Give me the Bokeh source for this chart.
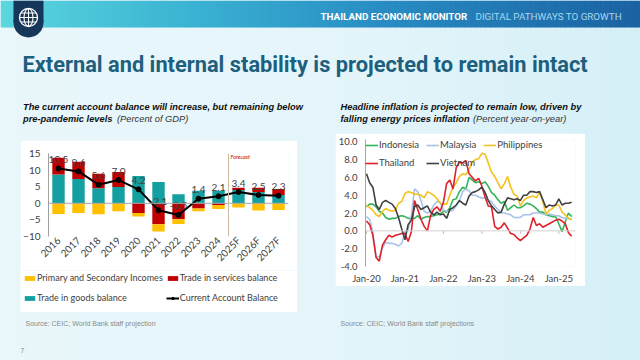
from math import pi
import numpy as np
from bokeh.plotting import figure
from bokeh.layouts import column, row
from bokeh.models import (Range1d, FactorRange, Span, Label, Legend, LegendItem,
                          FixedTicker, NumeralTickFormatter, Spacer)
from bokeh.core.properties import value
from bokeh.embed import file_html
from bokeh.resources import INLINE

# ---------------- texts ----------------
slide_header = "THAILAND ECONOMIC MONITOR"
slide_subheader = "DIGITAL PATHWAYS TO GROWTH"
slide_title = "External and internal stability is projected to remain intact"
left_sub_1 = "The current account balance will increase, but remaining below"
left_sub_2 = "pre-pandemic levels"
left_sub_unit = "(Percent of GDP)"
right_sub_1 = "Headline inflation is projected to remain low, driven by"
right_sub_2 = "falling energy prices inflation"
right_sub_unit = "(Percent year-on-year)"
left_source = "Source: CEIC; World Bank staff projection"
right_source = "Source:  CEIC; World Bank staff projections"
page_number = "7"

# ---------------- left chart data (percent of GDP) ----------------
ca_years = ["2016", "2017", "2018", "2019", "2020", "2021", "2022", "2023",
            "2024", "2025F", "2026F", "2027F"]
goods = [8.7, 7.3, 4.5, 4.9, 8.2, 6.4, 2.7, 3.8, 3.8, 4.0, 3.4, 2.5]
services = [5.0, 5.2, 4.4, 4.5, -2.9, -6.3, -4.8, -1.6, -0.5, 0.7, 1.3, 1.8]
incomes = [-3.2, -2.9, -3.3, -2.4, -1.1, -2.2, -1.4, -0.8, -1.2, -1.3, -2.2, -2.0]
ca_balance = [10.5, 9.6, 5.6, 7.0, 4.2, -2.1, -3.5, 1.4, 2.1, 3.4, 2.5, 2.3]
ca_y_ticks = [-10, -5, 0, 5, 10, 15]
forecast_from = "2025F"

# ---------------- right chart data (monthly, Jan-2020 .. May-2025) ----------------
cpi_x_labels = ["Jan-20", "Jan-21", "Jan-22", "Jan-23", "Jan-24", "Jan-25"]
cpi_y_ticks = [-4, -2, 0, 2, 4, 6, 8, 10]
indonesia = [2.7, 3.0, 3.0, 2.7, 2.2, 2.0, 1.5, 1.3, 1.4, 1.4, 1.6, 1.7,
             1.6, 1.4, 1.4, 1.4, 1.7, 1.3, 1.5, 1.6, 1.6, 1.7, 1.8, 1.9,
             2.2, 2.1, 2.6, 3.5, 3.6, 4.4, 4.9, 4.7, 6.0, 5.7, 5.4, 5.5,
             5.3, 5.5, 5.0, 4.3, 4.0, 3.5, 3.1, 3.3, 2.3, 2.6, 2.9, 2.6,
             2.6, 2.8, 3.1, 3.0, 2.8, 2.5, 2.1, 2.1, 1.8, 1.7, 1.6, 1.6,
             0.8, -0.1, 1.0, 2.0, 1.6]
malaysia = [1.6, 1.3, -0.2, -2.9, -2.9, -1.9, -1.3, -1.4, -1.4, -1.5, -1.7, -1.4,
            -0.2, 0.1, 1.7, 4.7, 4.4, 3.4, 2.2, 2.0, 2.2, 2.9, 3.3, 3.2,
            2.3, 2.2, 2.2, 2.3, 2.8, 3.4, 4.4, 4.7, 4.5, 4.0, 4.0, 3.8,
            3.7, 3.7, 3.4, 3.3, 2.8, 2.4, 2.0, 2.0, 1.9, 1.8, 1.5, 1.5,
            1.5, 1.8, 1.8, 1.8, 2.0, 2.0, 2.0, 1.9, 1.8, 1.9, 1.8, 1.7,
            1.7, 1.5, 1.4, 1.4, 1.2]
philippines = [2.9, 2.6, 2.3, 1.8, 1.6, 2.2, 2.5, 2.3, 2.2, 2.3, 3.1, 3.3,
               4.2, 4.4, 4.3, 4.1, 4.1, 4.0, 3.7, 4.4, 4.2, 4.0, 3.6, 3.1,
               3.0, 3.0, 4.0, 4.9, 5.4, 6.1, 6.4, 6.3, 6.9, 7.7, 8.0, 8.1,
               8.7, 8.6, 7.6, 6.6, 6.1, 5.4, 4.7, 5.3, 6.1, 4.9, 4.1, 3.9,
               2.8, 3.4, 3.7, 3.8, 3.9, 3.7, 4.4, 3.3, 1.9, 2.3, 2.5, 2.9,
               2.9, 2.1, 1.8, 1.4, 1.3]
thailand = [1.1, 0.7, -0.5, -3.0, -3.4, -1.6, -1.0, -0.5, -0.7, -0.5, -0.4, -0.3,
            -0.3, -1.2, -0.1, 3.4, 2.4, 1.3, 0.5, 0.0, 1.7, 2.4, 2.7, 2.2,
            3.2, 5.3, 5.7, 4.7, 7.1, 7.7, 7.6, 7.9, 6.4, 6.0, 5.6, 5.9,
            5.0, 3.8, 2.8, 2.7, 0.5, 0.2, 0.4, 0.9, 0.3, -0.3, -0.4, -0.8,
            -1.1, -0.8, -0.5, 0.2, 1.5, 0.6, 0.8, 0.4, 0.6, 0.8, 1.0, 1.2,
            1.3, 1.1, 0.8, -0.2, -0.6]
vietnam = [6.4, 5.4, 4.9, 2.9, 2.4, 3.2, 3.4, 3.2, 3.0, 2.5, 1.5, 0.2,
           -1.0, 0.7, 1.2, 2.7, 2.9, 2.4, 2.6, 2.8, 2.1, 1.8, 2.1, 1.8,
           1.9, 1.4, 2.4, 2.6, 2.9, 3.4, 3.1, 2.9, 3.9, 4.3, 4.4, 4.6,
           4.9, 4.3, 3.4, 2.8, 2.4, 2.0, 2.1, 3.0, 3.7, 3.6, 3.5, 3.6,
           3.4, 4.0, 4.0, 4.4, 4.4, 4.3, 4.4, 3.5, 2.6, 2.9, 2.8, 2.9,
           3.6, 2.9, 3.1, 3.1, 3.2]

# ---------------- styles ----------------
TXT = "#404040"
FONT = "Lato"
C_GOODS, C_SERV, C_INC = "#14a0a0", "#c00000", "#ffc000"
PAGE_BG = "linear-gradient(90deg, #e9f7fb 0%, #e4f5fa 55%, #d5eff7 100%)"

def plain(p, bg=None):
    if bg is None:
        p.background_fill_alpha = 0
        p.border_fill_alpha = 0
    else:
        p.background_fill_color = bg
        p.border_fill_color = bg
    p.outline_line_color = None
    p.xgrid.visible = False
    p.ygrid.visible = False

def no_align(p):
    try:
        p.frame_align = False
        return True
    except Exception:
        return False

def style_axis(ax, size):
    ax.major_tick_line_color = None
    ax.minor_tick_line_color = None
    ax.major_tick_out = 0
    ax.major_tick_in = 0
    ax.minor_tick_out = 0
    ax.minor_tick_in = 0
    ax.major_label_text_font = FONT
    ax.major_label_text_font_size = size
    ax.major_label_text_color = TXT

# ---------------- header (page coordinates) ----------------
hd = figure(width=640, height=130, x_range=Range1d(0, 640), y_range=Range1d(130, 0),
            x_axis_location=None, y_axis_location=None, min_border=0,
            output_backend="svg", toolbar_location=None)
plain(hd)
stops = [(0.0, (90, 214, 222)), (0.3, (58, 178, 210)), (0.6, (40, 140, 195)), (1.0, (27, 98, 162))]
nstrip = 128
edges = np.linspace(0, 640, nstrip + 1)
cols = []
for i in range(nstrip):
    t = (i + 0.5) / nstrip
    for (t0, c0), (t1, c1) in zip(stops[:-1], stops[1:]):
        if t0 <= t <= t1:
            f = (t - t0) / (t1 - t0)
            c = tuple(int(round(a + (b - a) * f)) for a, b in zip(c0, c1))
            cols.append("#%02x%02x%02x" % c)
            break
hd.quad(left=edges[:-1], right=edges[1:] + 0.6, top=0, bottom=27, fill_color=cols, line_color=None)
# logo
hd.quad(left=[13], right=[43], top=[0], bottom=[22], fill_color="#17375a", line_color=None)
hd.circle(x=[28], y=[22], radius=15, fill_color="#17375a", line_color=None)
hd.circle(x=[28], y=[17], radius=9, fill_color=None, line_color="white", line_width=1.3)
hd.ellipse(x=[28], y=[17], width=9, height=18, fill_color=None, line_color="white", line_width=1.1)
hd.segment(x0=[28, 19, 20.5, 20.5], y0=[8, 17, 12.5, 21.5], x1=[28, 37, 35.5, 35.5],
           y1=[26, 17, 12.5, 21.5], line_color="white", line_width=1.1)
hd.text(x=[320], y=[16], text=[slide_header], text_font=value("Roboto"), text_font_style="bold",
        text_font_size="9.8px", text_color="white", text_baseline="middle")
hd.text(x=[475], y=[16], text=[slide_subheader], text_font=value("Roboto"),
        text_font_size="9.8px", text_color="#a5d8f0", text_baseline="middle")
hd.text(x=[22], y=[63.5], text=[slide_title], text_font=value("Roboto"), text_font_style="bold",
        text_font_size="21.8px", text_color="#1d5f7e", text_baseline="alphabetic")
for xx, yy, tt, st in [(22.5, 106.5, left_sub_1, "bold italic"), (22.5, 118.5, left_sub_2, "bold italic"),
                       (116.5, 118.5, left_sub_unit, "italic"),
                       (340, 106.5, right_sub_1, "bold italic"), (340, 118.5, right_sub_2, "bold italic"),
                       (472.5, 118.5, right_sub_unit, "italic")]:
    hd.text(x=[xx], y=[yy], text=[tt], text_font=value("Liberation Sans"), text_font_style=st,
            text_font_size="9.3px", text_color="#111111" if "bold" in st else "#333333",
            text_baseline="middle")

# ---------------- left chart ----------------
pl = figure(width=277, height=130, x_range=FactorRange(*ca_years), y_range=Range1d(-10, 15),
            output_backend="svg", toolbar_location=None,
            min_border_left=25, min_border_right=9, min_border_top=13, min_border_bottom=29)
plain(pl, "white")
no_align(pl)
pos = np.zeros(len(ca_years))
neg = np.zeros(len(ca_years))
for name, vals, color in [("goods", goods, C_GOODS), ("services", services, C_SERV),
                          ("incomes", incomes, C_INC)]:
    v = np.array(vals, dtype=float)
    bottom = np.where(v >= 0, pos, neg + v)
    top = np.where(v >= 0, pos + v, neg)
    pos = pos + np.where(v >= 0, v, 0)
    neg = neg + np.where(v < 0, v, 0)
    pl.vbar(x=ca_years, bottom=bottom.tolist(), top=top.tolist(), width=0.62,
            fill_color=color, line_color=None)
pl.add_layout(Span(location=0, dimension="width", line_color="#a6a6a6", line_width=1))
fpos = ca_years.index(forecast_from)
pl.add_layout(Span(location=fpos, dimension="height", line_color="#cdb9a0", line_width=1))
pl.add_layout(Label(x=fpos, y=14, x_offset=2, text="Forecast", text_font=FONT, text_font_style="italic",
                    text_font_size="5.5px", text_color="#c00000", text_baseline="middle"))
pl.line(x=ca_years, y=ca_balance, line_color="black", line_width=2)
pl.scatter(x=ca_years, y=ca_balance, size=5, color="black")
pl.text(x=ca_years, y=ca_balance, text=["%.1f" % v for v in ca_balance], text_align="center",
        text_baseline="middle", y_offset=-9, text_font=value(FONT), text_font_size="10px",
        text_color=TXT)
pl.yaxis.ticker = FixedTicker(ticks=ca_y_ticks)
pl.yaxis.axis_line_color = "#a0a0a0"
pl.yaxis.major_label_standoff = 8
pl.xaxis.axis_line_color = None
pl.xaxis.major_label_orientation = pi / 4
pl.xaxis.major_label_standoff = 2
style_axis(pl.xaxis, "10px")
style_axis(pl.yaxis, "10px")

# legend strip under the left chart (its key glyphs sit outside the visible range)
lg = figure(width=277, height=42, x_range=Range1d(0, 1), y_range=Range1d(0, 1),
            x_axis_location=None, y_axis_location=None, min_border=0,
            output_backend="svg", toolbar_location=None)
plain(lg, "white")
unaligned = no_align(lg)
g_inc = lg.vbar(x=[-5], top=[-5], bottom=[-6], width=0.5, fill_color=C_INC, line_color=None)
g_srv = lg.vbar(x=[-5], top=[-5], bottom=[-6], width=0.5, fill_color=C_SERV, line_color=None)
g_goods = lg.vbar(x=[-5], top=[-5], bottom=[-6], width=0.5, fill_color=C_GOODS, line_color=None)
g_line = lg.line(x=[-5, -4], y=[-5, -5], line_color="black", line_width=2)
g_pts = lg.scatter(x=[-5], y=[-5], size=5, color="black")
leg_l = Legend(items=[LegendItem(label="Primary and Secondary Incomes", renderers=[g_inc]),
                      LegendItem(label="Trade in services balance", renderers=[g_srv]),
                      LegendItem(label="Trade in goods balance", renderers=[g_goods]),
                      LegendItem(label="Current Account Balance", renderers=[g_line, g_pts])],
               location=(3, 6) if unaligned else (0, 6), orientation="horizontal", ncols=2,
               background_fill_alpha=0, border_line_color=None, padding=0, margin=0, spacing=3,
               glyph_width=13, glyph_height=6, label_height=17, label_standoff=1,
               label_text_font=FONT, label_text_font_size="9px", label_text_color=TXT)
lg.add_layout(leg_l, "center")

# ---------------- right chart ----------------
months = list(range(len(thailand)))
pr = figure(width=250, height=153, x_range=Range1d(-0.3, 65.2), y_range=Range1d(-4, 10.25),
            output_backend="svg", toolbar_location=None,
            min_border_left=26, min_border_right=10, min_border_top=6, min_border_bottom=18)
plain(pr, "white")
pr.add_layout(Span(location=0, dimension="width", line_color="#d0d0d0", line_width=1))
tick_pos = [12 * i for i in range(len(cpi_x_labels))]
pr.segment(x0=tick_pos, y0=[0] * len(tick_pos), x1=tick_pos, y1=[-0.35] * len(tick_pos),
           line_color="#bfbfbf", line_width=1)
series = [("Indonesia", indonesia, "#33b557"), ("Malaysia", malaysia, "#a9c3e8"),
          ("Philippines", philippines, "#f3c21c"), ("Thailand", thailand, "#e0202a"),
          ("Vietnam", vietnam, "#404040")]
items = []
for name, vals, color in series:
    r = pr.line(x=months, y=vals, line_color=color, line_width=1.6)
    items.append(LegendItem(label=name, renderers=[r]))
pr.yaxis.ticker = FixedTicker(ticks=cpi_y_ticks)
pr.yaxis.formatter = NumeralTickFormatter(format="0.0")
pr.yaxis.axis_line_color = "#a6a6a6"
pr.yaxis.major_label_standoff = 8
pr.xaxis.ticker = FixedTicker(ticks=tick_pos)
pr.xaxis.major_label_overrides = {t: lab for t, lab in zip(tick_pos, cpi_x_labels)}
pr.xaxis.axis_line_color = None
pr.xaxis.major_label_standoff = 6
style_axis(pr.xaxis, "9.5px")
style_axis(pr.yaxis, "9.5px")
leg_r = Legend(items=items, location="top_left", orientation="horizontal", ncols=3,
               background_fill_alpha=0, border_line_color=None, padding=0, margin=0, spacing=7,
               glyph_width=13, glyph_height=10, label_height=10, label_standoff=1,
               label_text_font=FONT, label_text_font_size="9.5px", label_text_color=TXT)
pr.add_layout(leg_r, "center")

# ---------------- footer (page y - 312) ----------------
ft = figure(width=640, height=48, x_range=Range1d(0, 640), y_range=Range1d(48, 0),
            x_axis_location=None, y_axis_location=None, min_border=0,
            output_backend="svg", toolbar_location=None)
plain(ft)
ft.text(x=[25, 340], y=[11, 11], text=[left_source, right_source], text_font=value("Liberation Sans"),
        text_font_size="7px", text_color="#8a8a8a", text_baseline="middle")
ft.text(x=[20], y=[37.5], text=[page_number], text_font=value("Liberation Sans"),
        text_font_size="7px", text_color="#8a8a8a", text_baseline="middle")

# ---------------- layout ----------------
left_col = column(Spacer(width=277, height=10), pl, lg, spacing=0)
right_col = column(Spacer(width=250, height=3), pr, Spacer(width=250, height=26), spacing=0)
mid = row(Spacer(width=20, height=182), left_col, Spacer(width=38, height=182), right_col,
          Spacer(width=55, height=182), spacing=0)
root = column(hd, mid, ft, spacing=0, styles={"background": PAGE_BG})

open("out.html", "w").write(file_html(root, INLINE))
